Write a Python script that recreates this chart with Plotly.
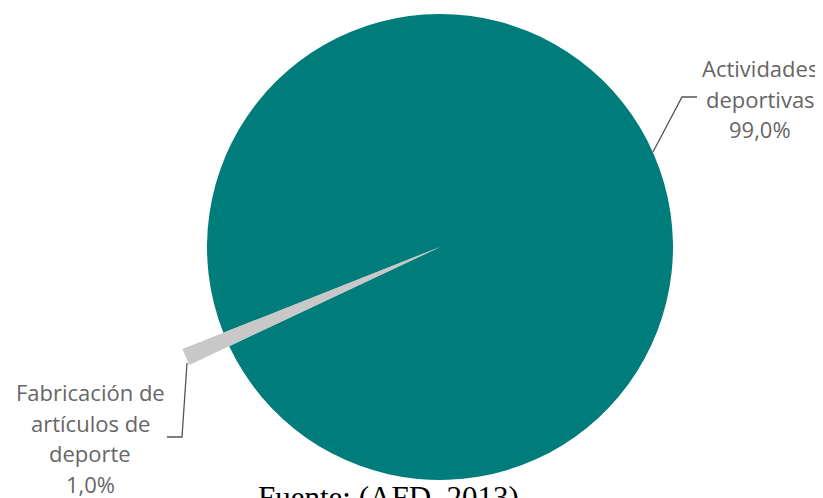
import math
import plotly.graph_objects as go

# ---- data ----
categories = ["Actividades deportivas", "Fabricación de artículos de deporte"]
values = [99.0, 1.0]
value_labels = ["99,0%", "1,0%"]
label_lines = [["Actividades", "deportivas", value_labels[0]],
               ["Fabricación de", "artículos de", "deporte", value_labels[1]]]
colors = ["#007d7a", "#c8c8c8"]
source_text = "Fuente: (AFD, 2013)"

# ---- layout constants (window pixels; page body has an 8px margin) ----
OFF = 8
W, H = 823 - OFF, 498 - OFF
CX, CY, R = 440 - OFF, 247 - OFF, 233
R_EXT = 277          # the small slice sticks out of the pie
ROT = -111.6         # start angle of first slice (deg, clockwise from 12 o'clock)
LINE_GAP = 30.5
label_pos = [(760, 68), (90, 392)]   # centre x, first-line y (window px)


def px(v):
    return v - OFF


fig = go.Figure()

# protruding part of the small slice, angles derived from the data
total = sum(values)
a0 = ROT + 360 * values[0] / total
a1 = a0 + 360 * values[1] / total
xs, ys = [CX], [CY]
n = 12
for i in range(n + 1):
    a = math.radians(a0 + (a1 - a0) * i / n)
    xs.append(CX + R_EXT * math.sin(a))
    ys.append(CY - R_EXT * math.cos(a))
xs.append(CX); ys.append(CY)
fig.add_trace(go.Scatter(x=xs, y=ys, mode="lines", fill="toself",
                         fillcolor=colors[1], line=dict(width=0, color=colors[1]),
                         hoverinfo="skip", showlegend=False))

# leader lines
fig.add_trace(go.Scatter(x=[px(653), px(682), px(697)], y=[px(152), px(97), px(97)],
                         mode="lines", line=dict(color="#555555", width=1.3),
                         hoverinfo="skip", showlegend=False))
fig.add_trace(go.Scatter(x=[px(187), px(182), px(167)], y=[px(363), px(437), px(437)],
                         mode="lines", line=dict(color="#555555", width=1.3),
                         hoverinfo="skip", showlegend=False))

fig.add_trace(go.Pie(
    labels=categories, values=values,
    marker=dict(colors=colors, line=dict(width=0)),
    sort=False, direction="clockwise", rotation=ROT,
    textinfo="none", hoverinfo="label+percent", showlegend=False,
    domain=dict(x=[(CX - R) / W, (CX + R) / W],
                y=[1 - (CY + R) / H, 1 - (CY - R) / H]),
))

label_font = dict(family="Open Sans", size=22, color="#666666")
for lines, (lx, ly) in zip(label_lines, label_pos):
    for i, t in enumerate(lines):
        fig.add_annotation(x=px(lx), y=px(ly + i * LINE_GAP), xref="x", yref="y",
                           text=t, showarrow=False, font=label_font,
                           xanchor="center", yanchor="middle")

fig.add_annotation(x=px(388), y=px(478), xref="x", yref="y", text=source_text,
                   showarrow=False,
                   font=dict(family="Liberation Serif", size=31, color="#000000"),
                   xanchor="center", yanchor="top")

fig.update_layout(
    width=W, height=H,
    margin=dict(l=0, r=0, t=0, b=0),
    paper_bgcolor="white", plot_bgcolor="white",
    xaxis=dict(range=[0, W], visible=False, fixedrange=True),
    yaxis=dict(range=[H, 0], visible=False, fixedrange=True),
    showlegend=False,
)

fig.write_html("out.html")
